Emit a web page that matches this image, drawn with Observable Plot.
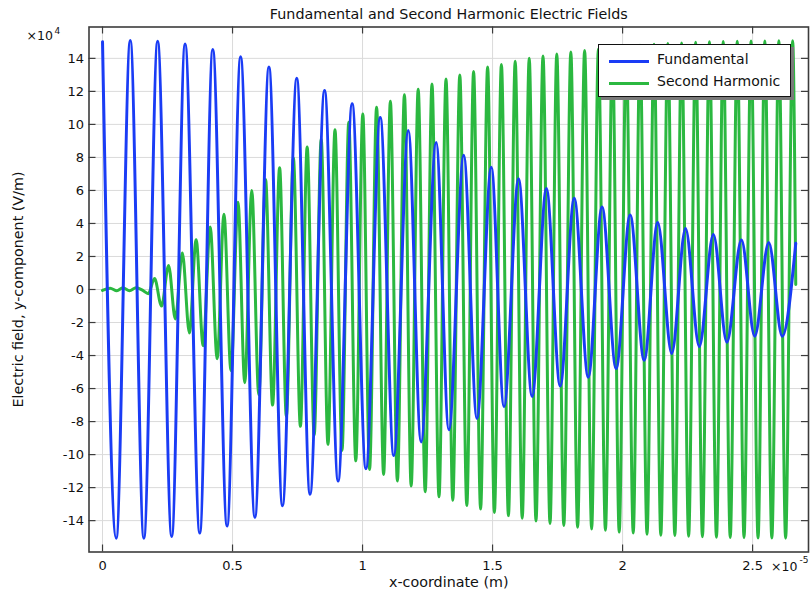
<!DOCTYPE html>
<html><head><meta charset="utf-8">
<script src="https://cdn.jsdelivr.net/npm/d3@7"></script>
<script src="https://cdn.jsdelivr.net/npm/@observablehq/plot@0.6"></script>
<style>
body{margin:0;background:#fff;}
#wrap{position:relative;width:811px;height:594px;font-family:"DejaVu Sans",sans-serif;}
#legend{position:absolute;left:598px;top:44px;width:191px;height:51px;border:1.5px solid #111;background:#fff;box-shadow:3px 3px 0 #7a7a7a;}
.row{position:absolute;left:0;height:20px;width:100%;}
.sw{position:absolute;left:10px;top:9px;width:40px;height:0;border-top:3px solid;}
.lb{position:absolute;left:58px;top:0px;font-size:14px;color:#111;white-space:nowrap;}
</style>
</head><body>
<div id="wrap"></div>
<script>
// ---- data (x in 1e-5 m, E_y in 1e4 V/m) ----
const title = "Fundamental and Second Harmonic Electric Fields";
const xLabel = "x-coordinate (m)";
const yLabel = "Electric field, y-component (V/m)";
const seriesNames = ["Fundamental", "Second Harmonic"];
const xTicks = [0, 0.5, 1, 1.5, 2, 2.5];
const yTicks = [-14, -12, -10, -8, -6, -4, -2, 0, 2, 4, 6, 8, 10, 12, 14];

const fundX = [0, 0.0527, 0.1067, 0.159, 0.212, 0.266, 0.3175, 0.374, 0.424, 0.479, 0.531, 0.586,
  0.640, 0.692, 0.747, 0.798, 0.854, 0.906, 0.960, 1.013, 1.068, 1.120, 1.176, 1.225, 1.283, 1.332,
  1.389, 1.440, 1.495, 1.544, 1.600, 1.652, 1.707, 1.760, 1.814, 1.868, 1.921, 1.975, 2.029, 2.083,
  2.135, 2.189, 2.242, 2.295, 2.349, 2.401, 2.457, 2.508, 2.562, 2.614, 2.666];
const fundY = [15.0, -15.06, 15.08, -15.06, 15.04, -14.96, 14.87, -14.75, 14.54, -14.33, 14.1, -13.8,
  13.48, -13.1, 12.79, -12.4, 12.06, -11.6, 11.25, -10.85, 10.42, -10.06, 9.63, -9.23, 8.9, -8.5,
  8.125, -7.81, 7.4, -7.1, 6.71, -6.48, 6.125, -5.85, 5.52, -5.31, 5.0, -4.79, 4.52, -4.29,
  4.06, -3.875, 3.69, -3.46, 3.33, -3.19, 3.0, -2.83, 2.85, -2.83, 2.8];

const shX = [0, 0.0296, 0.055, 0.0784, 0.104, 0.1285, 0.155, 0.176,
  0.200, 0.227, 0.254, 0.280, 0.307, 0.334, 0.360, 0.387, 0.414, 0.441, 0.467, 0.494, 0.521, 0.547,
  0.574, 0.601, 0.627, 0.654, 0.681, 0.707, 0.734, 0.761, 0.787, 0.814, 0.841, 0.867, 0.894, 0.921,
  0.947, 0.974, 1.001, 1.027, 1.054, 1.081, 1.107, 1.134, 1.161, 1.187, 1.214, 1.241, 1.267, 1.294,
  1.321, 1.347, 1.374, 1.401, 1.427, 1.454, 1.481, 1.507, 1.534, 1.561, 1.587, 1.614, 1.641, 1.667,
  1.694, 1.721, 1.747, 1.774, 1.801, 1.827, 1.854, 1.881, 1.907, 1.934, 1.961, 1.987, 2.014, 2.041,
  2.067, 2.094, 2.121, 2.147, 2.174, 2.201, 2.227, 2.254, 2.281, 2.307, 2.334, 2.361, 2.387, 2.414,
  2.441, 2.467, 2.494, 2.521, 2.547, 2.574, 2.601, 2.627, 2.654, 2.666];
const shY = [-0.05, 0.08, -0.08, 0.1, -0.08, 0.1, -0.05, -0.25,
  0.67, -1.0, 1.46, -1.79, 2.21, -2.63, 3.02, -3.4, 3.79, -4.19, 4.56, -4.92, 5.29, -5.65,
  6.0, -6.38, 6.67, -7.0, 7.38, -7.67, 7.96, -8.29, 8.63, -8.81, 9.1, -9.38, 9.67, -9.75,
  10.13, -10.38, 10.63, -10.9, 11.04, -11.2, 11.4, -11.6, 11.8, -11.9, 12.13, -12.25, 12.44, -12.56,
  12.75, -12.77, 13.0, -13.08, 13.2, -13.3, 13.48, -13.5, 13.63, -13.7, 13.83, -13.85, 14.0, -14.02,
  14.15, -14.17, 14.27, -14.29, 14.38, -14.4, 14.48, -14.5, 14.56, -14.58, 14.63, -14.69, 14.72, -14.75,
  14.8, -14.82, 14.85, -14.88, 14.9, -14.9, 14.93, -14.95, 14.97, -14.97, 15.0, -15.0, 15.02, -15.02,
  15.03, -15.03, 15.05, -15.05, 15.05, -15.05, 15.07, -15.06, 15.07, 0.3];

const BLUE = "#1a3cf5";
const GREEN = "#2bb840";

const fund = fundX.map((x, i) => ({x, y: fundY[i]}));
const sh = shX.map((x, i) => ({x, y: shY[i]}));

const W = 811, H = 594, mL = 88.5, mR = 3, mT = 26.5, mB = 42.5;
const fw = W - mL - mR, fh = H - mT - mB;
const AX = "#3c3c3c";
const TXT = "#111";

const chart = Plot.plot({
  width: W, height: H,
  marginLeft: mL, marginRight: mR, marginTop: mT, marginBottom: mB,
  style: {fontFamily: "DejaVu Sans, sans-serif", fontSize: "13px", background: "white", color: TXT, overflow: "visible"},
  x: {domain: [-0.052, 2.715]},
  y: {domain: [-15.9, 15.9]},
  marks: [
    Plot.gridX(xTicks, {stroke: "#dadada", strokeOpacity: 1, strokeWidth: 1}),
    Plot.gridY(yTicks, {stroke: "#dadada", strokeOpacity: 1, strokeWidth: 1}),
    Plot.line(sh, {x: "x", y: "y", curve: "monotone-x", stroke: GREEN, strokeWidth: 3}),
    Plot.line(fund, {x: "x", y: "y", curve: "monotone-x", stroke: BLUE, strokeWidth: 3}),
    Plot.tickX(xTicks, {x: d => d, insetTop: fh - 7, stroke: AX, strokeWidth: 1.2}),
    Plot.tickX(xTicks, {x: d => d, insetBottom: fh - 7, stroke: AX, strokeWidth: 1.2}),
    Plot.tickY(yTicks, {y: d => d, insetRight: fw - 7, stroke: AX, strokeWidth: 1.2}),
    Plot.tickY(yTicks, {y: d => d, insetLeft: fw - 7, stroke: AX, strokeWidth: 1.2}),
    Plot.frame({stroke: AX, strokeWidth: 1.6}),
    Plot.axisX(xTicks, {tickSize: 0, tickPadding: 9, label: null, tickFormat: d => String(d), fontSize: 13}),
    Plot.axisY(yTicks, {tickSize: 0, tickPadding: 5, label: null, tickFormat: d => String(d), fontSize: 13}),
    Plot.text([title], {frameAnchor: "top", dy: -13, textAnchor: "middle", lineAnchor: "middle", fontSize: 14.3, fill: TXT}),
    Plot.text([xLabel], {frameAnchor: "bottom", dy: 30, textAnchor: "middle", lineAnchor: "middle", fontSize: 14.3, fill: TXT}),
    Plot.text([yLabel], {frameAnchor: "left", dx: -71, rotate: -90, textAnchor: "middle", lineAnchor: "middle", fontSize: 14.3, fill: TXT}),
    Plot.text(["×10"], {frameAnchor: "top-left", dx: -36, dy: 9, textAnchor: "end", lineAnchor: "middle", fontSize: 12.5, fill: TXT}),
    Plot.text(["4"], {frameAnchor: "top-left", dx: -34.5, dy: 4, textAnchor: "start", lineAnchor: "middle", fontSize: 9, fill: TXT}),
    Plot.text(["×10"], {frameAnchor: "bottom-right", dx: -37.5, dy: 15, textAnchor: "start", lineAnchor: "middle", fontSize: 12.5, fill: TXT}),
    Plot.text(["-5"], {frameAnchor: "bottom-right", dx: -9, dy: 8.5, textAnchor: "start", lineAnchor: "middle", fontSize: 9, fill: TXT})
  ]
});

const wrap = document.getElementById("wrap");
wrap.appendChild(chart);

const legend = document.createElement("div");
legend.id = "legend";
[[seriesNames[0], BLUE, 5.5], [seriesNames[1], GREEN, 27.5]].forEach(([name, col, top]) => {
  const row = document.createElement("div");
  row.className = "row";
  row.style.top = top + "px";
  const sw = document.createElement("div");
  sw.className = "sw";
  sw.style.borderTopColor = col;
  const lb = document.createElement("div");
  lb.className = "lb";
  lb.textContent = name;
  row.appendChild(sw); row.appendChild(lb);
  legend.appendChild(row);
});
wrap.appendChild(legend);
</script>
</body></html>
